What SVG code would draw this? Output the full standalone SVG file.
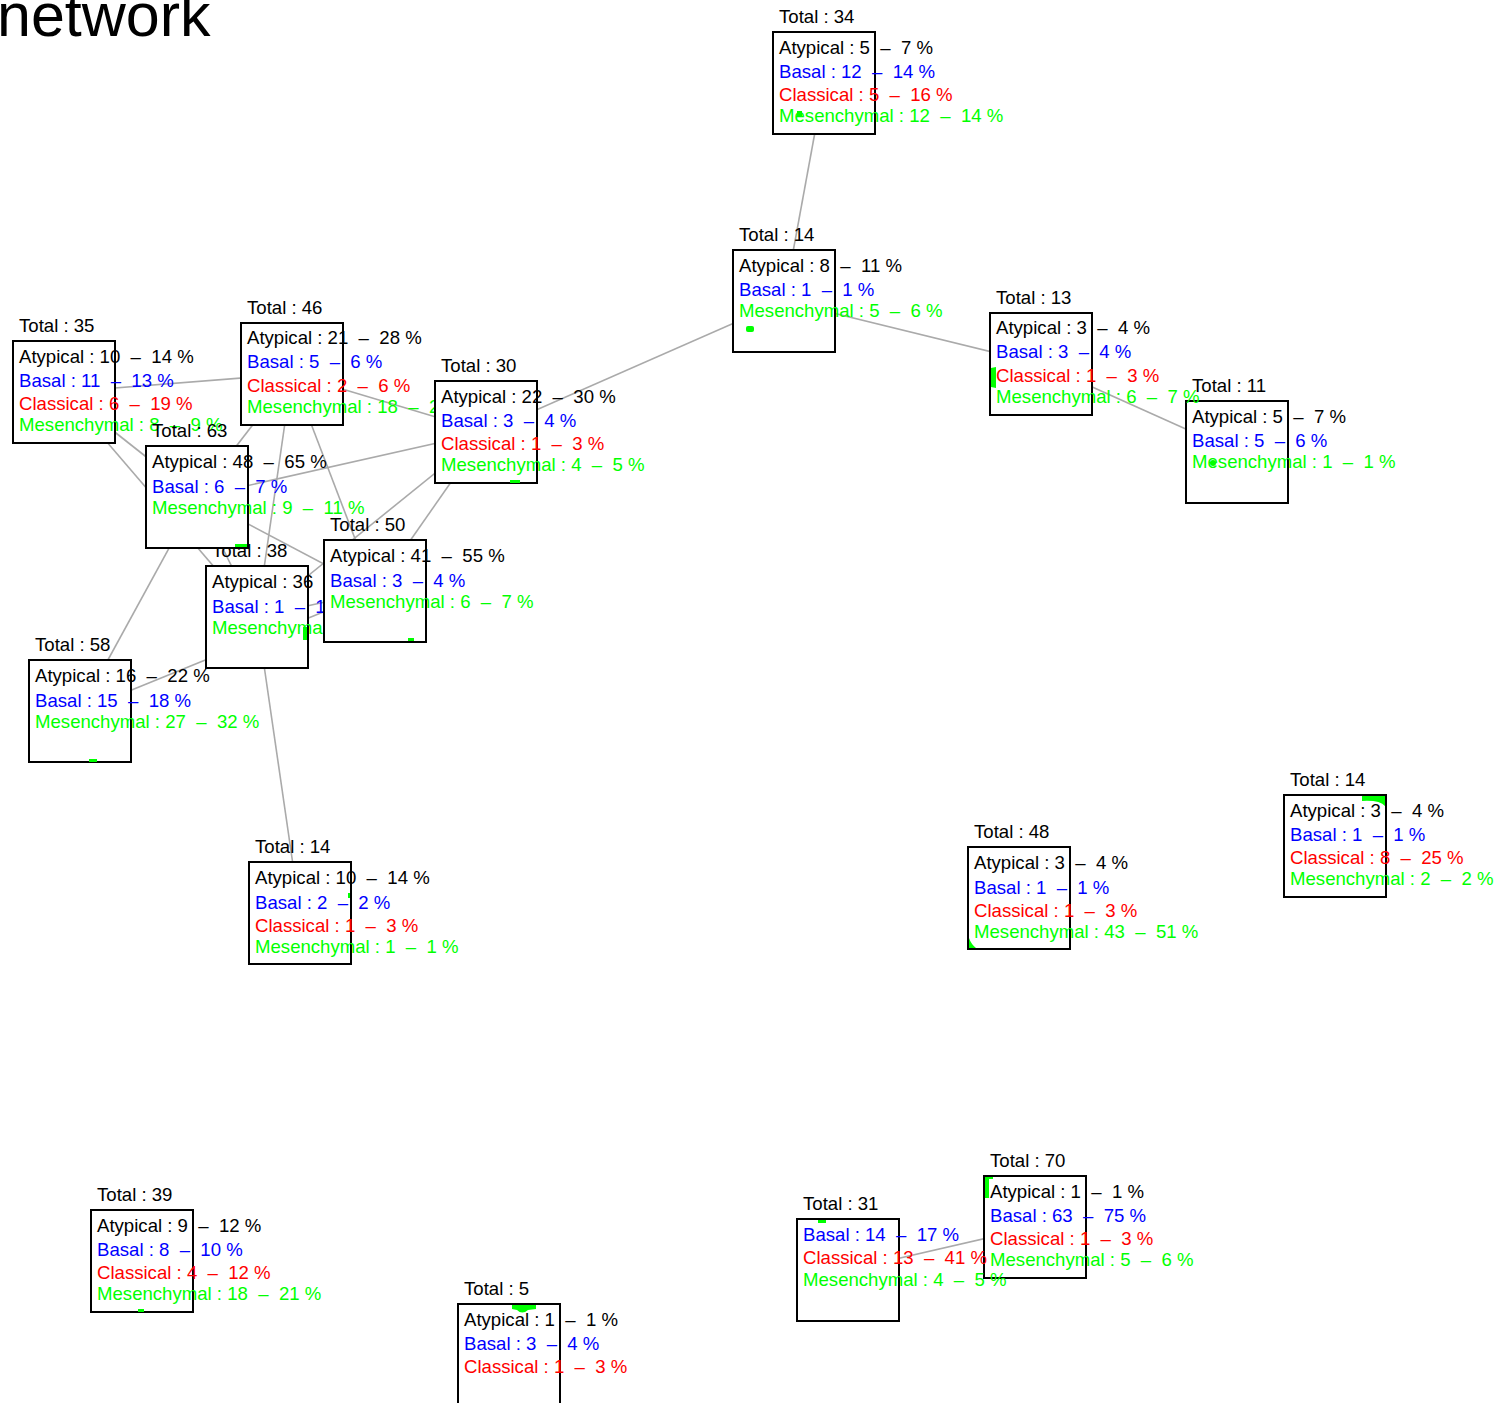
<svg xmlns="http://www.w3.org/2000/svg" width="1504" height="1403" viewBox="0 0 1504 1403" xml:space="preserve">
<style>
.bg{fill:#fff}
.box{fill:#fff;stroke:#000;stroke-width:2}
text{font-family:"Liberation Sans",Arial,sans-serif;font-size:18.6px;white-space:pre}
.k{fill:#000}.b{fill:#0000ff}.r{fill:#ff0000}.g{fill:#00ff00}
.mk{fill:#00ff00}
.edges line{stroke:#aaaaaa;stroke-width:1.6}
.title{font-size:61px}
</style>
<rect class="bg" x="0" y="0" width="1504" height="1403"/>
<text class="k title" x="-3" y="36">network</text>
<g id="edges" class="edges">
<line x1="824" y1="83" x2="784" y2="301"/>
<line x1="784" y1="301" x2="1041" y2="364"/>
<line x1="784" y1="301" x2="486" y2="432"/>
<line x1="1041" y1="364" x2="1237" y2="452"/>
<line x1="64" y1="392" x2="292" y2="374"/>
<line x1="64" y1="392" x2="197" y2="497"/>
<line x1="64" y1="392" x2="257" y2="617"/>
<line x1="292" y1="374" x2="486" y2="432"/>
<line x1="292" y1="374" x2="197" y2="497"/>
<line x1="292" y1="374" x2="257" y2="617"/>
<line x1="292" y1="374" x2="375" y2="591"/>
<line x1="197" y1="497" x2="486" y2="432"/>
<line x1="486" y1="432" x2="375" y2="591"/>
<line x1="486" y1="432" x2="257" y2="617"/>
<line x1="197" y1="497" x2="375" y2="591"/>
<line x1="197" y1="497" x2="257" y2="617"/>
<line x1="197" y1="497" x2="80" y2="711"/>
<line x1="257" y1="617" x2="375" y2="591"/>
<line x1="80" y1="711" x2="375" y2="591"/>
<line x1="257" y1="617" x2="300" y2="913"/>
<line x1="848" y1="1270" x2="1035" y2="1227"/>
</g>
<g id="n34" transform="translate(773,32)">
<rect class="box" width="102" height="102"/>
<text class="k" x="6" y="-9">Total : 34</text>
<text class="k" x="6" y="22">Atypical : 5  –  7 %</text>
<text class="b" x="6" y="46">Basal : 12  –  14 %</text>
<text class="r" x="6" y="69">Classical : 5  –  16 %</text>
<text class="g" x="6" y="90">Mesenchymal : 12  –  14 %</text>
<rect class="mk" x="24" y="79" width="5" height="5"/>
</g>
<g id="n14a" transform="translate(733,250)">
<rect class="box" width="102" height="102"/>
<text class="k" x="6" y="-9">Total : 14</text>
<text class="k" x="6" y="22">Atypical : 8  –  11 %</text>
<text class="b" x="6" y="46">Basal : 1  –  1 %</text>
<text class="g" x="6" y="67">Mesenchymal : 5  –  6 %</text>
<rect class="mk" x="13" y="76" width="8" height="6" rx="2"/>
</g>
<g id="n11" transform="translate(1186,401)">
<rect class="box" width="102" height="102"/>
<text class="k" x="6" y="-9">Total : 11</text>
<text class="k" x="6" y="22">Atypical : 5  –  7 %</text>
<text class="b" x="6" y="46">Basal : 5  –  6 %</text>
<text class="g" x="6" y="67">Mesenchymal : 1  –  1 %</text>
<circle class="mk" cx="27" cy="62" r="3"/>
</g>
<g id="n13" transform="translate(990,313)">
<rect class="box" width="102" height="102"/>
<text class="k" x="6" y="-9">Total : 13</text>
<text class="k" x="6" y="21">Atypical : 3  –  4 %</text>
<text class="b" x="6" y="45">Basal : 3  –  4 %</text>
<text class="r" x="6" y="69">Classical : 1  –  3 %</text>
<text class="g" x="6" y="90">Mesenchymal : 6  –  7 %</text>
<path class="mk" d="M1,55 L6,54 L6,75 L1,74 Z"/>
</g>
<g id="n35" transform="translate(13,341)">
<rect class="box" width="102" height="102"/>
<text class="k" x="6" y="-9">Total : 35</text>
<text class="k" x="6" y="22">Atypical : 10  –  14 %</text>
<text class="b" x="6" y="46">Basal : 11  –  13 %</text>
<text class="r" x="6" y="69">Classical : 6  –  19 %</text>
<text class="g" x="6" y="90">Mesenchymal : 8  –  9 %</text>
</g>
<g id="n46" transform="translate(241,323)">
<rect class="box" width="102" height="102"/>
<text class="k" x="6" y="-9">Total : 46</text>
<text class="k" x="6" y="21">Atypical : 21  –  28 %</text>
<text class="b" x="6" y="45">Basal : 5  –  6 %</text>
<text class="r" x="6" y="69">Classical : 2  –  6 %</text>
<text class="g" x="6" y="90">Mesenchymal : 18  –  21 %</text>
</g>
<g id="n30" transform="translate(435,381)">
<rect class="box" width="102" height="102"/>
<text class="k" x="6" y="-9">Total : 30</text>
<text class="k" x="6" y="22">Atypical : 22  –  30 %</text>
<text class="b" x="6" y="46">Basal : 3  –  4 %</text>
<text class="r" x="6" y="69">Classical : 1  –  3 %</text>
<text class="g" x="6" y="90">Mesenchymal : 4  –  5 %</text>
<rect class="mk" x="75" y="99" width="10" height="3"/>
</g>
<g id="n38" transform="translate(206,566)">
<rect class="box" width="102" height="102"/>
<text class="k" x="6" y="-9">Total : 38</text>
<text class="k" x="6" y="22">Atypical : 36  –  49 %</text>
<text class="b" x="6" y="47">Basal : 1  –  1 %</text>
<text class="g" x="6" y="68">Mesenchymal : 1  –  1 %</text>
<rect class="mk" x="97" y="61" width="4" height="13"/>
</g>
<g id="n63" transform="translate(146,446)">
<rect class="box" width="102" height="102"/>
<text class="k" x="6" y="-9">Total : 63</text>
<text class="k" x="6" y="22">Atypical : 48  –  65 %</text>
<text class="b" x="6" y="47">Basal : 6  –  7 %</text>
<text class="g" x="6" y="68">Mesenchymal : 9  –  11 %</text>
<rect class="mk" x="89" y="98" width="12" height="3"/>
</g>
<g id="n50" transform="translate(324,540)">
<rect class="box" width="102" height="102"/>
<text class="k" x="6" y="-9">Total : 50</text>
<text class="k" x="6" y="22">Atypical : 41  –  55 %</text>
<text class="b" x="6" y="47">Basal : 3  –  4 %</text>
<text class="g" x="6" y="68">Mesenchymal : 6  –  7 %</text>
<rect class="mk" x="84" y="98" width="6" height="3"/>
</g>
<g id="n58" transform="translate(29,660)">
<rect class="box" width="102" height="102"/>
<text class="k" x="6" y="-9">Total : 58</text>
<text class="k" x="6" y="22">Atypical : 16  –  22 %</text>
<text class="b" x="6" y="47">Basal : 15  –  18 %</text>
<text class="g" x="6" y="68">Mesenchymal : 27  –  32 %</text>
<rect class="mk" x="60" y="99" width="8" height="3"/>
</g>
<g id="n14b" transform="translate(249,862)">
<rect class="box" width="102" height="102"/>
<text class="k" x="6" y="-9">Total : 14</text>
<text class="k" x="6" y="22">Atypical : 10  –  14 %</text>
<text class="b" x="6" y="47">Basal : 2  –  2 %</text>
<text class="r" x="6" y="70">Classical : 1  –  3 %</text>
<text class="g" x="6" y="91">Mesenchymal : 1  –  1 %</text>
<rect class="mk" x="99" y="31" width="2" height="5"/>
</g>
<g id="n48" transform="translate(968,847)">
<rect class="box" width="102" height="102"/>
<text class="k" x="6" y="-9">Total : 48</text>
<text class="k" x="6" y="22">Atypical : 3  –  4 %</text>
<text class="b" x="6" y="47">Basal : 1  –  1 %</text>
<text class="r" x="6" y="70">Classical : 1  –  3 %</text>
<text class="g" x="6" y="91">Mesenchymal : 43  –  51 %</text>
<path class="mk" d="M1,91 L1,101 L8,101 Q3,97 1,91 Z"/>
</g>
<g id="n14c" transform="translate(1284,795)">
<rect class="box" width="102" height="102"/>
<text class="k" x="6" y="-9">Total : 14</text>
<text class="k" x="6" y="22">Atypical : 3  –  4 %</text>
<text class="b" x="6" y="46">Basal : 1  –  1 %</text>
<text class="r" x="6" y="69">Classical : 8  –  25 %</text>
<text class="g" x="6" y="90">Mesenchymal : 2  –  2 %</text>
<path class="mk" d="M78,1 L101,1 L101,11 Q96,5 78,6 Z"/>
</g>
<g id="n39" transform="translate(91,1210)">
<rect class="box" width="102" height="102"/>
<text class="k" x="6" y="-9">Total : 39</text>
<text class="k" x="6" y="22">Atypical : 9  –  12 %</text>
<text class="b" x="6" y="46">Basal : 8  –  10 %</text>
<text class="r" x="6" y="69">Classical : 4  –  12 %</text>
<text class="g" x="6" y="90">Mesenchymal : 18  –  21 %</text>
<rect class="mk" x="47" y="99" width="6" height="3"/>
</g>
<g id="n5" transform="translate(458,1304)">
<rect class="box" width="102" height="102"/>
<text class="k" x="6" y="-9">Total : 5</text>
<text class="k" x="6" y="22">Atypical : 1  –  1 %</text>
<text class="b" x="6" y="46">Basal : 3  –  4 %</text>
<text class="r" x="6" y="69">Classical : 1  –  3 %</text>
<path class="mk" d="M54,1 L78,1 L78,5 L70,6 Q64,11 59,6 L54,5 Z"/>
</g>
<g id="n70" transform="translate(984,1176)">
<rect class="box" width="102" height="102"/>
<text class="k" x="6" y="-9">Total : 70</text>
<text class="k" x="6" y="22">Atypical : 1  –  1 %</text>
<text class="b" x="6" y="46">Basal : 63  –  75 %</text>
<text class="r" x="6" y="69">Classical : 1  –  3 %</text>
<text class="g" x="6" y="90">Mesenchymal : 5  –  6 %</text>
<path class="mk" d="M1,1 L9,1 L9,3 L5,3 L5,22 L1,22 Z"/>
</g>
<g id="n31" transform="translate(797,1219)">
<rect class="box" width="102" height="102"/>
<text class="k" x="6" y="-9">Total : 31</text>
<text class="b" x="6" y="22">Basal : 14  –  17 %</text>
<text class="r" x="6" y="45">Classical : 13  –  41 %</text>
<text class="g" x="6" y="67">Mesenchymal : 4  –  5 %</text>
<rect class="mk" x="21" y="1" width="8" height="3"/>
</g>
</svg>
